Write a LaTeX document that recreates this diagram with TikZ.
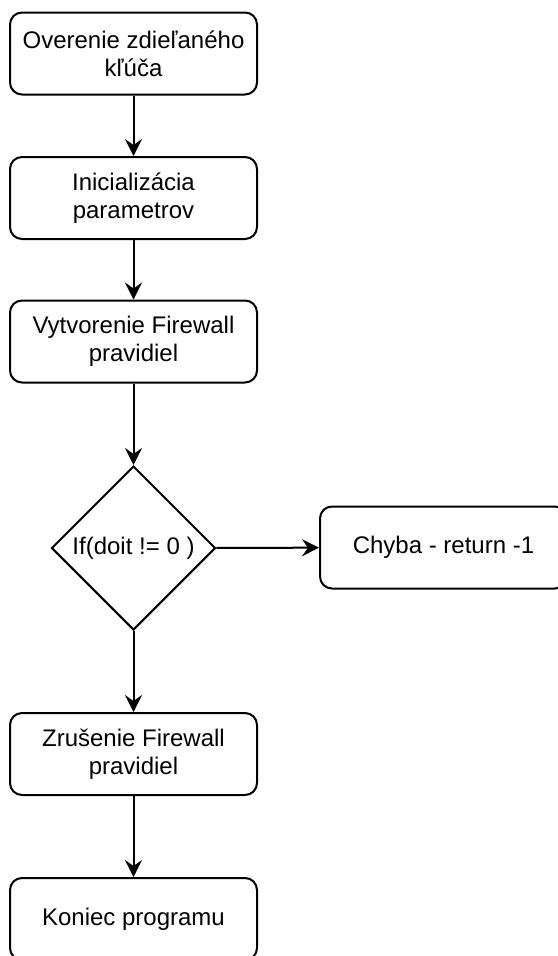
\documentclass[tikz,border=0pt]{standalone}
\usepackage{fontspec}
\setmainfont{Liberation Sans}
\usepackage{tikz}
\usetikzlibrary{shapes.geometric,arrows.meta}

\begin{document}
\begin{tikzpicture}[x=1pt,y=-1pt,
            box/.style={draw,rounded corners=12pt,line width=2pt,minimum width=247pt,minimum height=82pt,align=center,font=\fontsize{24}{28}\selectfont},
            cond/.style={draw,diamond,aspect=1,inner sep=0pt,line width=2pt,minimum width=164pt,minimum height=164pt,font=\fontsize{24}{28}\selectfont},
            arr/.style={line width=2pt,-{Stealth[length=17pt,width=17pt,inset=6pt]}}]
            \useasboundingbox (0,0) rectangle (557,956);

            \node[box] at (133.5,53.5) (A) {Overenie zdieľaného\\kľúča};
            \node[box] at (133.5,198) (B) {Inicializácia\\parametrov};
            \node[box] at (133.5,341.5) (C) {Vytvorenie Firewall\\pravidiel};
            \node[cond] at (133.5,548) (D) {If(doit != 0 )};
            \node[box] at (443.5,547.5) (E) {Chyba - return -1};
            \node[box] at (133.5,754) (F) {Zrušenie Firewall\\pravidiel};
            \node[box] at (133.5,919) (G) {Koniec programu};

            \draw[arr] (A) -- (B);
            \draw[arr] (B) -- (C);
            \draw[arr] (C) -- (D);
            \draw[arr] (D) -- (E);
            \draw[arr] (D) -- (F);
            \draw[arr] (F) -- (G);
        \end{tikzpicture}
\end{document}
